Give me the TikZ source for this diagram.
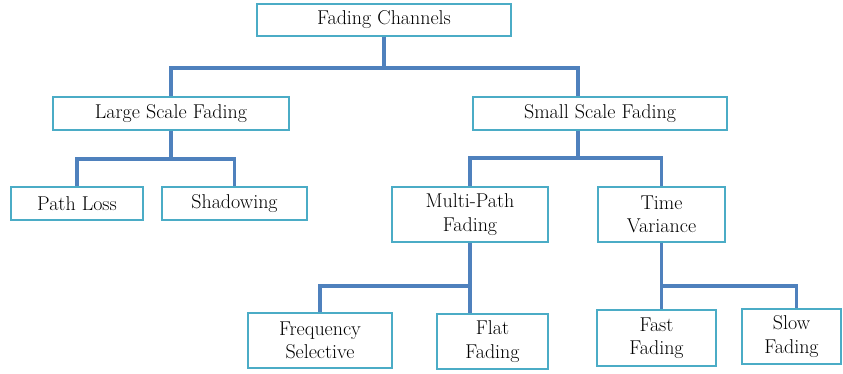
\documentclass[tikz,border=0pt]{standalone}
\usetikzlibrary{positioning}

\definecolor{boxline}{HTML}{4BACC6}
\definecolor{treeline}{HTML}{4F81BD}

\tikzset{
  box/.style={draw=boxline, line width=1.5pt, fill=white, align=center,
    inner sep=0pt, font=\fontsize{15}{17.6}\selectfont},
  sz/.style 2 args={minimum width=#1*0.75pt, minimum height=#2*0.75pt},
  link/.style={draw=treeline, line width=2.3pt}
}

\begin{document}
\begin{tikzpicture}[x=0.75pt, y=-0.75pt]
        \useasboundingbox (0,0) rectangle (843,374);
        % levels of the tree
        \node[box, sz={254}{32}] (fc) at (384,20) {Fading Channels};
        \node[box, sz={236}{33}] (lsf) at (171,113.5) {Large Scale Fading};
        \node[box, sz={254}{33}] (ssf) at (600,113.5) {Small Scale Fading};
        \node[box, sz={132}{33}] (pl) at (77,203.5) {Path Loss};
        \node[box, sz={145}{33}] (sh) at (234.5,203.5) {Shadowing};
        \node[box, sz={156}{55}] (mpf) at (470,214.5) {Multi-Path\\Fading};
        \node[box, sz={127}{55}] (tv) at (661.5,214.5) {Time\\Variance};
        \node[box, sz={144}{55}] (fs) at (320,340.5) {Frequency\\Selective};
        \node[box, sz={111}{55}] (ff) at (492.5,341.5) {Flat\\Fading};
        \node[box, sz={119}{56}] (fast) at (656.5,338) {Fast\\Fading};
        \node[box, sz={99}{55}] (slow) at (791.5,336.5) {Slow\\Fading};
        % connectors
        \draw[link] (fc.south) -- ++(0,31) -| (lsf.north);
        \draw[link] (fc.south) -- ++(0,31) -| ([xshift=-16.5pt]ssf.north);
        \draw[link] (lsf.south) -- ++(0,28) -| (pl.north);
        \draw[link] (lsf.south) -- ++(0,28) -| (sh.north);
        \draw[link] ([xshift=-16.5pt]ssf.south) -- ++(0,27) -| (mpf.north);
        \draw[link] ([xshift=-16.5pt]ssf.south) -- ++(0,27) -| (tv.north);
        \draw[link] (mpf.south) -- ++(0,43) -| (fs.north);
        \draw[link] (mpf.south) -- (mpf.south |- ff.north);
        \draw[link] (tv.south) -- (tv.south |- fast.north);
        \draw[link] (tv.south) -- ++(0,43) -| ([xshift=4pt]slow.north);
\end{tikzpicture}
\end{document}
